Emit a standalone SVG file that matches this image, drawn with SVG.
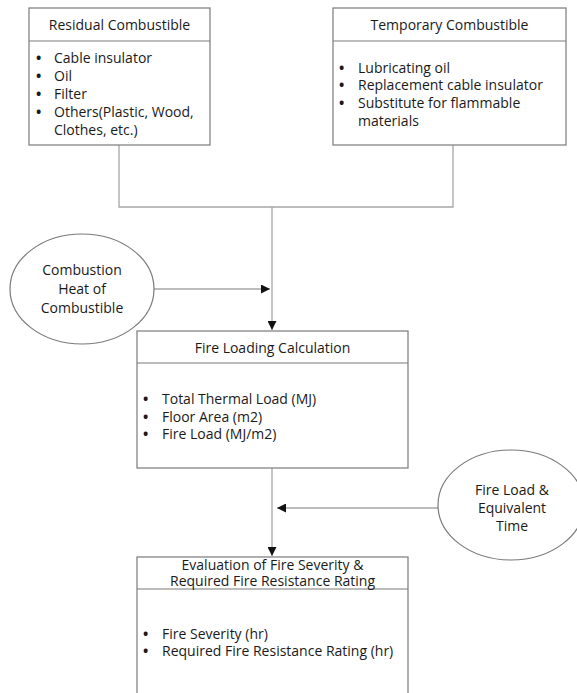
<svg xmlns="http://www.w3.org/2000/svg" width="577" height="693" viewBox="0 0 577 693">
<style>
.box{fill:#fff;stroke:#7a7a7a;stroke-width:1.2}
.div{stroke:#7a7a7a;stroke-width:1.2}
.ell{fill:#fff;stroke:#7a7a7a;stroke-width:1.2}
.con{fill:none;stroke:#a6a6a6;stroke-width:1.3}
text{font-family:"Open Sans","Noto Sans",sans-serif;font-size:14px;fill:#1a1a1a}
.c{text-anchor:middle}
.b{font-weight:bold}
</style>
<defs>
<marker id="ah" viewBox="0 0 10 10" refX="10" refY="5" markerWidth="9" markerHeight="9" markerUnits="userSpaceOnUse" orient="auto">
<path d="M0,0 L10,5 L0,10 z" fill="#111"/>
</marker>
</defs>
<g id="connectors">
<polyline class="con" points="119,145 119,207 453,207 453,145"/>
<line class="con" x1="272" y1="207" x2="272" y2="330" marker-end="url(#ah)"/>
<line class="con" x1="154" y1="289" x2="270" y2="289" marker-end="url(#ah)"/>
<line class="con" x1="272" y1="468" x2="272" y2="556" marker-end="url(#ah)"/>
<line class="con" x1="438" y1="508" x2="277" y2="508" marker-end="url(#ah)"/>
</g>
<g id="residual">
<rect class="box" x="29" y="8" width="181" height="137"/>
<line class="div" x1="29" y1="41" x2="210" y2="41"/>
<text class="c" x="119.5" y="30">Residual Combustible</text>
<text x="36" y="63"><tspan class="b">•</tspan><tspan x="54">Cable insulator</tspan></text>
<text x="36" y="81"><tspan class="b">•</tspan><tspan x="54">Oil</tspan></text>
<text x="36" y="99"><tspan class="b">•</tspan><tspan x="54">Filter</tspan></text>
<text x="36" y="117"><tspan class="b">•</tspan><tspan x="54">Others(Plastic, Wood,</tspan></text>
<text x="54" y="135">Clothes, etc.)</text>
</g>
<g id="temporary">
<rect class="box" x="333" y="8" width="233" height="137"/>
<line class="div" x1="333" y1="41" x2="566" y2="41"/>
<text class="c" x="449.5" y="30">Temporary Combustible</text>
<text x="339" y="73"><tspan class="b">•</tspan><tspan x="358">Lubricating oil</tspan></text>
<text x="339" y="90"><tspan class="b">•</tspan><tspan x="358">Replacement cable insulator</tspan></text>
<text x="339" y="108"><tspan class="b">•</tspan><tspan x="358">Substitute for flammable</tspan></text>
<text x="358" y="126">materials</text>
</g>
<g id="combustion-heat">
<ellipse class="ell" cx="82" cy="289" rx="72" ry="55"/>
<text class="c" x="82" y="275">Combustion</text>
<text class="c" x="82" y="294">Heat of</text>
<text class="c" x="82" y="313">Combustible</text>
</g>
<g id="fire-loading">
<rect class="box" x="137" y="331" width="271" height="137"/>
<line class="div" x1="137" y1="363" x2="408" y2="363"/>
<text class="c" x="272.5" y="353">Fire Loading Calculation</text>
<text x="143" y="404"><tspan class="b">•</tspan><tspan x="162">Total Thermal Load (MJ)</tspan></text>
<text x="143" y="422"><tspan class="b">•</tspan><tspan x="162">Floor Area (m2)</tspan></text>
<text x="143" y="439"><tspan class="b">•</tspan><tspan x="162">Fire Load (MJ/m2)</tspan></text>
</g>
<g id="fire-load-equiv">
<ellipse class="ell" cx="511" cy="505" rx="73" ry="55"/>
<text class="c" x="512" y="495">Fire Load &amp;</text>
<text class="c" x="512" y="513">Equivalent</text>
<text class="c" x="512" y="531">Time</text>
</g>
<g id="evaluation">
<rect class="box" x="137" y="557" width="271" height="150"/>
<line class="div" x1="137" y1="589" x2="408" y2="589"/>
<text class="c" x="272.5" y="570">Evaluation of Fire Severity &amp;</text>
<text class="c" x="272.5" y="586">Required Fire Resistance Rating</text>
<text x="143" y="639"><tspan class="b">•</tspan><tspan x="162">Fire Severity (hr)</tspan></text>
<text x="143" y="656"><tspan class="b">•</tspan><tspan x="162">Required Fire Resistance Rating (hr)</tspan></text>
</g>
</svg>
